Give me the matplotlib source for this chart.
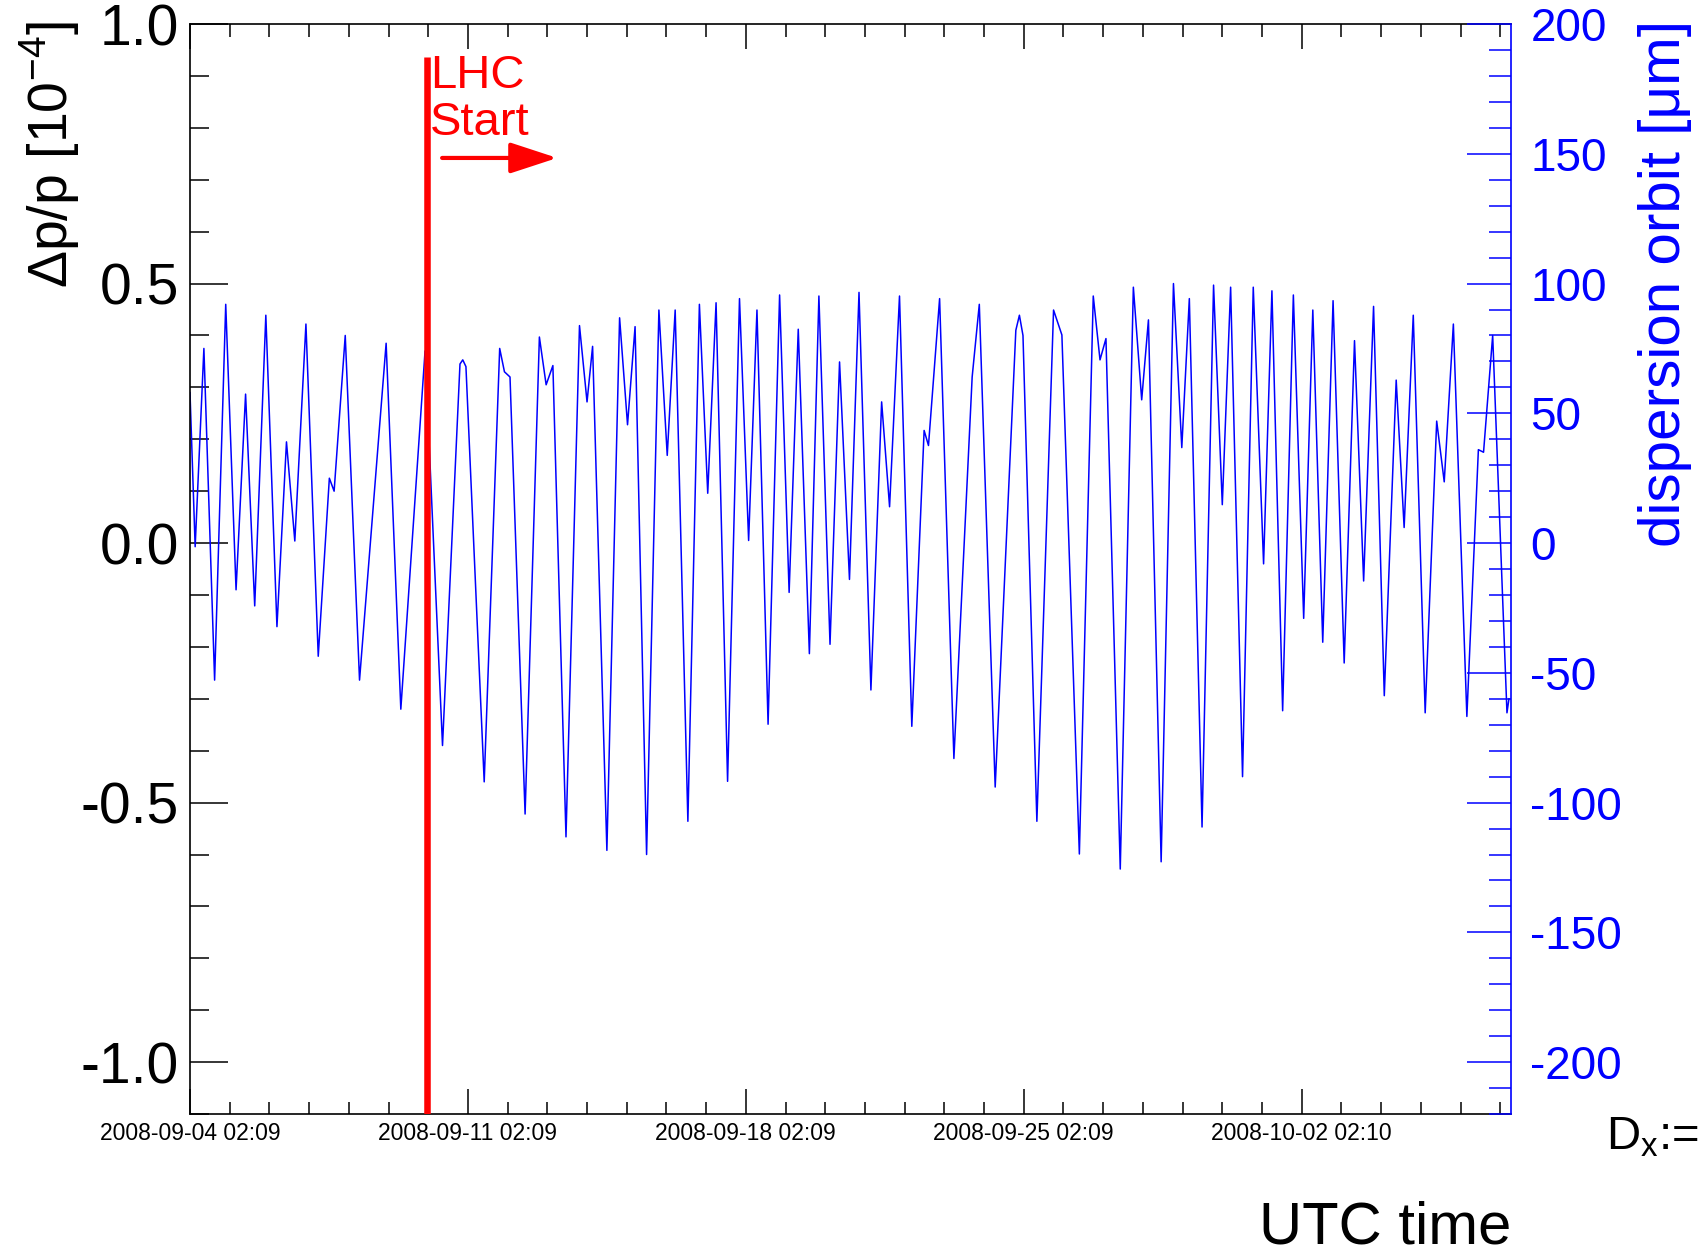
import matplotlib
matplotlib.use("Agg")
import matplotlib.pyplot as plt
from matplotlib.ticker import MultipleLocator, FixedLocator

plt.rcParams["font.family"] = ["Liberation Sans", "DejaVu Sans"]
plt.rcParams["axes.unicode_minus"] = False

# time in days since 2008-09-04 02:09 UTC, dp/p in units of 1e-4
days = [0.00, 0.13, 0.35, 0.62, 0.90, 1.16, 1.40, 1.63, 1.91, 2.19,
        2.43, 2.64, 2.92, 3.23, 3.51, 3.63, 3.91, 4.27, 4.94, 5.31,
        5.92, 6.36, 6.80, 6.87, 6.95, 7.41, 7.80, 7.92, 8.06, 8.44,
        8.80, 8.97, 9.14, 9.47, 9.81, 10.00, 10.14, 10.50, 10.82, 11.02,
        11.21, 11.50, 11.81, 12.02, 12.22, 12.54, 12.83, 13.04, 13.25, 13.54,
        13.84, 14.07, 14.28, 14.56, 14.85, 15.09, 15.32, 15.60, 15.84, 16.12,
        16.36, 16.61, 16.85, 17.15, 17.42, 17.62, 17.87, 18.18, 18.49, 18.60,
        18.88, 19.24, 19.70, 19.88, 20.28, 20.80, 20.89, 20.98, 21.33, 21.75,
        21.96, 22.40, 22.75, 22.92, 23.07, 23.43, 23.76, 23.97, 24.14, 24.46,
        24.77, 24.98, 25.17, 25.49, 25.78, 26.00, 26.21, 26.51, 26.78, 27.04,
        27.25, 27.52, 27.79, 28.05, 28.28, 28.53, 28.79, 29.07, 29.33, 29.56,
        29.81, 30.08, 30.38, 30.58, 30.81, 31.11, 31.40, 31.59, 31.82, 32.16,
        32.45, 32.58, 32.81, 33.17, 33.22]
dpp = [0.29, -0.007, 0.375, -0.264, 0.46, -0.09, 0.287, -0.121, 0.439, -0.161,
       0.195, 0.004, 0.422, -0.218, 0.125, 0.10, 0.40, -0.264, 0.385, -0.32,
       0.37, -0.39, 0.345, 0.353, 0.34, -0.46, 0.375, 0.33, 0.32, -0.522,
       0.397, 0.305, 0.342, -0.566, 0.419, 0.272, 0.379, -0.592, 0.434, 0.228,
       0.417, -0.60, 0.449, 0.169, 0.449, -0.536, 0.46, 0.096, 0.463, -0.459,
       0.471, 0.005, 0.449, -0.349, 0.478, -0.095, 0.412, -0.213, 0.476, -0.195,
       0.349, -0.07, 0.483, -0.283, 0.272, 0.07, 0.476, -0.353, 0.217, 0.188,
       0.471, -0.415, 0.32, 0.46, -0.47, 0.41, 0.439, 0.40, -0.536, 0.449,
       0.401, -0.599, 0.476, 0.353, 0.394, -0.628, 0.493, 0.276, 0.43, -0.614,
       0.50, 0.184, 0.471, -0.547, 0.497, 0.074, 0.493, -0.45, 0.493, -0.04,
       0.486, -0.323, 0.478, -0.145, 0.449, -0.191, 0.467, -0.231, 0.39, -0.073,
       0.456, -0.294, 0.314, 0.03, 0.439, -0.327, 0.235, 0.118, 0.422, -0.334,
       0.18, 0.175, 0.40, -0.327, -0.30]

lhc_day = 5.97
x_end = 33.27
xtick_days = [0, 7, 14, 21, 28]
xtick_labels = ["2008-09-04 02:09", "2008-09-11 02:09", "2008-09-18 02:09",
                "2008-09-25 02:09", "2008-10-02 02:10"]
left_ticks = [-1.0, -0.5, 0.0, 0.5, 1.0]
right_ticks = [-200, -150, -100, -50, 0, 50, 100, 150, 200]

fig = plt.figure(figsize=(17.04, 12.52), dpi=100)
ax = fig.add_axes([0.1115, 0.1102, 0.7752, 0.8706])

ax.plot(days, dpp, color="#0000ff", lw=1.1, zorder=2)
ax.vlines(lhc_day, -1.1, 0.937, color="#ff0000", lw=4.7, zorder=3)
ax.text(lhc_day + 0.07, 0.942, "LHC\nStart", color="#ff0000", fontsize=34,
        ha="left", va="top", linespacing=1.08)
ax.annotate("", xy=(9.25, 0.742), xytext=(6.35, 0.742),
            arrowprops=dict(arrowstyle="-|>,head_length=2.9,head_width=0.95",
                            mutation_scale=10, color="#ff0000", lw=3,
                            shrinkA=0, shrinkB=0))

ax.set_xlim(0, x_end)
ax.set_ylim(-1.1, 1.0)
ax.xaxis.set_major_locator(FixedLocator(xtick_days))
ax.set_xticklabels(xtick_labels)
ax.xaxis.set_minor_locator(MultipleLocator(1))
ax.yaxis.set_major_locator(FixedLocator(left_ticks))
ax.set_yticklabels(["%.1f" % v for v in left_ticks])
ax.yaxis.set_minor_locator(MultipleLocator(0.1))

ax.tick_params(axis="x", which="both", direction="in", top=True, bottom=True,
               labelsize=16.5, pad=6, width=1.1)
ax.tick_params(axis="x", which="major", length=18)
ax.tick_params(axis="x", which="minor", length=9)
ax.tick_params(axis="y", which="both", direction="in", left=True, right=False,
               labelsize=41, pad=8, width=1.1)
ax.tick_params(axis="y", which="major", length=27)
ax.tick_params(axis="y", which="minor", length=13.7)
for s in ["left", "top", "bottom"]:
    ax.spines[s].set_linewidth(1.2)
ax.spines["right"].set_visible(False)

ax2 = ax.twinx()
ax2.set_ylim(-220, 200)
ax2.yaxis.set_major_locator(FixedLocator(right_ticks))
ax2.set_yticklabels([str(v) for v in right_ticks])
ax2.yaxis.set_minor_locator(MultipleLocator(10))
ax2.tick_params(axis="y", which="both", direction="in", colors="#0000ff",
                labelsize=33, pad=14, width=1.1)
ax2.tick_params(axis="y", which="major", length=32)
ax2.tick_params(axis="y", which="minor", length=16)
for s in ["left", "top", "bottom"]:
    ax2.spines[s].set_visible(False)
ax2.spines["right"].set_color("#0000ff")
ax2.spines["right"].set_linewidth(1.2)

fig.text(0.029, 0.983, r"Δp/p [10$^{\mathregular{-4}}$]", rotation=90,
         ha="center", va="top", fontsize=40)
fig.text(0.977, 0.984, "dispersion orbit [μm]", rotation=90, color="#0000ff",
         ha="center", va="top", fontsize=42)
fig.text(0.8867, 0.007, "UTC time", ha="right", va="baseline", fontsize=43)
fig.text(0.997, 0.0815, r"D$_{\mathregular{x}}$:=", ha="right", va="baseline",
         fontsize=34)

fig.savefig("out.png", dpi=100)
